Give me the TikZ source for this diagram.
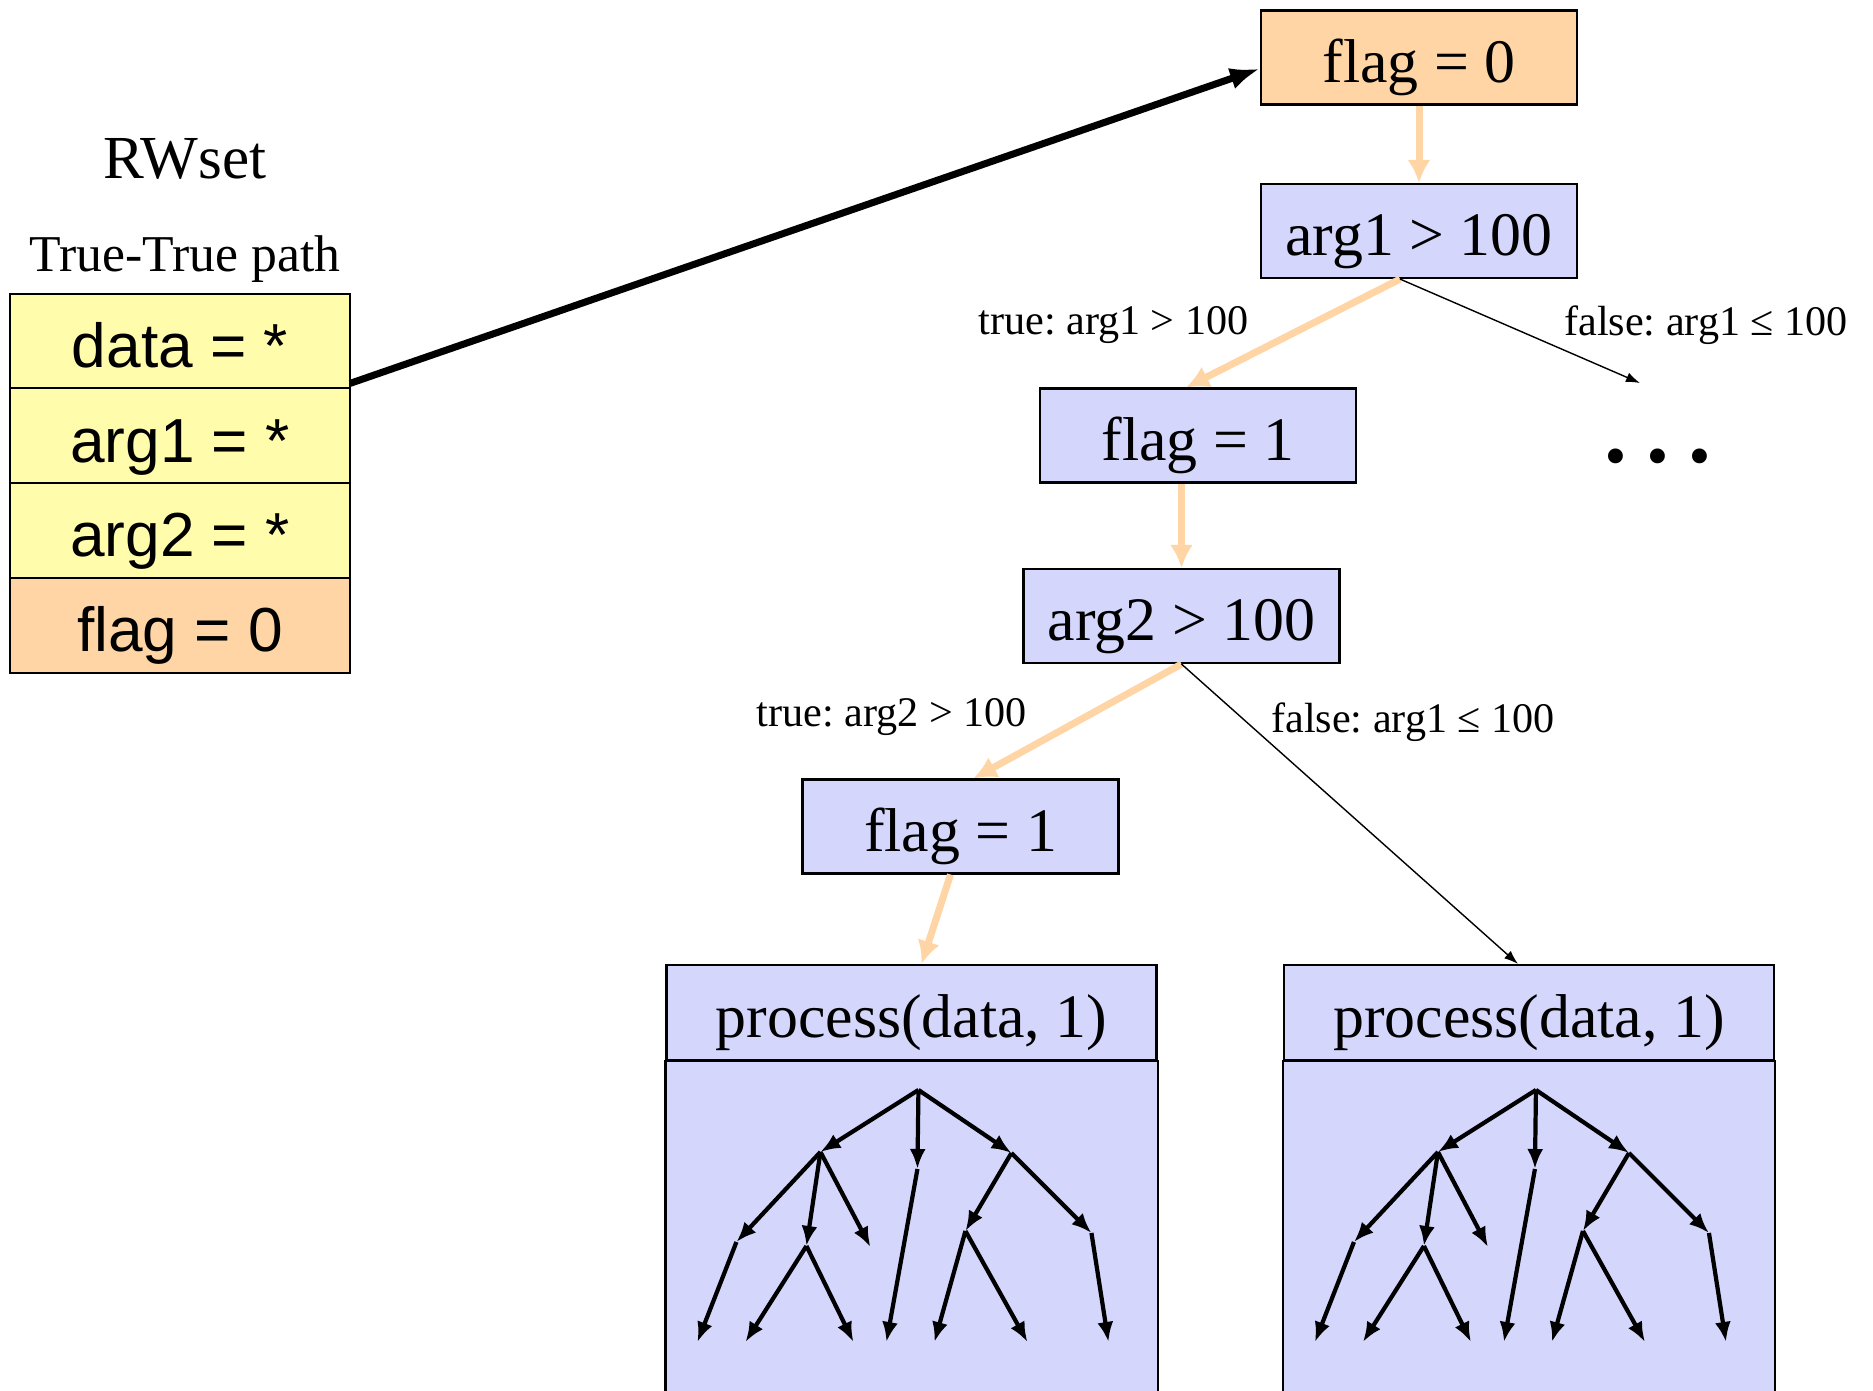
\documentclass[tikz,border=0pt]{standalone}
\usepackage{fontspec}
\setmainfont{Liberation Serif}
\setsansfont{Liberation Sans}
\usetikzlibrary{arrows.meta,calc,positioning}
\frenchspacing

\definecolor{peach}{RGB}{255,213,166}
\definecolor{lemon}{RGB}{255,252,172}
\definecolor{lilac}{RGB}{213,214,252}

\begin{document}
\begin{tikzpicture}[
        box/.style={draw, line width=0.6pt, fill=lilac, minimum width=3.16cm, minimum height=0.94cm, inner sep=0pt, text height=14.2pt, text depth=0pt, font=\fontsize{17.6}{20}\selectfont},
        cell/.style={draw, line width=0.6pt, fill=lemon, minimum width=3.4cm, minimum height=0.948cm, inner sep=0pt, outer sep=0pt, text height=15pt, text depth=0pt, font=\sffamily\fontsize{17.7}{20}\selectfont},
        hot/.style={draw=peach, line width=2pt, -{Latex[length=0.23cm,width=0.23cm]}},
        cold/.style={line width=0.4pt, -{Latex[length=0.14cm,width=0.1cm]}},
        twig/.style={line width=1.2pt, -{Latex[length=0.2cm,width=0.16cm]}},
        lbl/.style={font=\fontsize{12}{14}\selectfont}
    ]
        \useasboundingbox (0,0) rectangle (18.73,-13.9);

        % RWset
        \node (title) at (1.85,-1.59) {\fontsize{17.4}{20}\selectfont RWset};
        \node (path) at (1.85,-2.59) {\fontsize{14.7}{17}\selectfont True-True path};

        \node[cell] (d) at (1.8,-3.41) {data = *};
        \node[cell, below=0pt of d] (a1) {arg1 = *};
        \node[cell, below=0pt of a1] (a2) {arg2 = *};
        \node[cell, fill=peach, below=0pt of a2] (fl) {flag = 0};

        % decision tree
        \node[box, fill=peach] (f0) at (14.19,-0.575) {flag = 0};
        \node[box] (c1) at (14.19,-2.31) {arg1 > 100};
        \node[box] (f1) at (11.98,-4.355) {flag = 1};
        \node[box] (c2) at (11.815,-6.16) {arg2 > 100};
        \node[box] (f2) at (9.605,-8.265) {flag = 1};

        \node[box, minimum width=4.9cm, minimum height=0.95cm] (pL) at (9.115,-10.125) {process(data, 1)};
        \node[box, minimum width=4.9cm, minimum height=0.95cm] (pR) at (15.29,-10.125) {process(data, 1)};

        \draw[line width=0.6pt, fill=lilac] (pL.south west) rectangle ($(pL.south east)+(0,-3.5)$);
        \draw[line width=0.6pt, fill=lilac] (pR.south west) rectangle ($(pR.south east)+(0,-3.5)$);

        \node[lbl] (t1) at (11.135,-3.25) {true: arg1 > 100};
        \node[lbl] (e1) at (17.06,-3.25) {false: arg1 ≤ 100};
        \node (more) at (16.58,-4.56) {\fontsize{26}{28}\selectfont\bfseries .\hspace{5.5pt}.\hspace{5.5pt}.};
        \coordinate (mtip) at (16.40,-3.83);
        \node[lbl] (t2) at (8.92,-7.17) {true: arg2 > 100};
        \node[lbl] (e2) at (14.13,-7.22) {false: arg1 ≤ 100};

        \draw[line width=2pt, -{Latex[length=0.3cm,width=0.22cm]}] ($(d.south east)+(0,0.05)$) -- (f0.184);

        \draw[hot] (f0.south) -- (c1.north);
        \draw[hot] ($(c1.south)+(-0.19,0)$) -- ($(f1.north)+(-0.12,0)$);
        \draw[hot] (c2.north |- f1.south) -- (c2.north);
        \draw[hot] (c2.south) -- ($(f2.north)+(0.13,0)$);
        \draw[hot] ($(f2.south)+(-0.1,0)$) -- ($(pL.north)+(0.1,0)$);

        \draw[cold] ($(c1.south)+(-0.19,0)$) -- (mtip);
        \draw[cold] (c2.south) -- ($(pR.north)+(-0.11,0)$);

        % call trees
        \foreach \p in {pL,pR}{
            \begin{scope}[shift={(\p.north west)}]
                \coordinate (r) at (2.53,-1.26);
                \coordinate (a) at (1.55,-1.88);
                \coordinate (b) at (2.52,-2.05);
                \coordinate (c) at (3.46,-1.89);
                \coordinate (aa) at (0.71,-2.78);
                \coordinate (ab) at (1.41,-2.82);
                \coordinate (ac) at (2.05,-2.83);
                \coordinate (ba) at (2.21,-3.78);
                \coordinate (ca) at (3.00,-2.67);
                \coordinate (cb) at (4.26,-2.69);
                \coordinate (aaa) at (0.32,-3.78);
                \coordinate (aba) at (0.80,-3.78);
                \coordinate (abb) at (1.88,-3.78);
                \coordinate (caa) at (2.69,-3.78);
                \coordinate (cab) at (3.62,-3.78);
                \coordinate (cba) at (4.43,-3.78);
                \foreach \s/\t in {r/a, r/b, r/c, a/aa, a/ab, a/ac, b/ba, c/ca, c/cb, aa/aaa, ab/aba, ab/abb, ca/caa, ca/cab, cb/cba}
                    \draw[twig] (\s) -- (\t);
            \end{scope}
        }
    \end{tikzpicture}
\end{document}
